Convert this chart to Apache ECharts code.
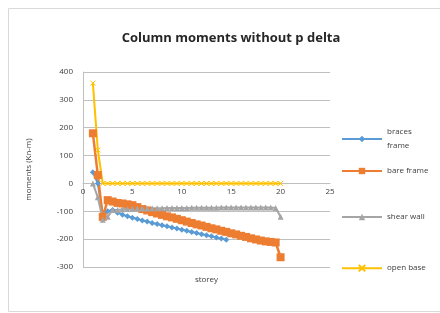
<!DOCTYPE html>
<html>
<head>
<meta charset="utf-8">
<script src="https://cdn.jsdelivr.net/npm/echarts@6/dist/echarts.min.js"></script>
<style>
  html, body { margin: 0; padding: 0; background: #fff; }
  #chart { width: 440px; height: 313px; }
</style>
</head>
<body>
<div id="chart"></div>
<script>
// storey positions (two readings per storey)
var storey = [1, 1.5, 2, 2.5, 3, 3.5, 4, 4.5, 5, 5.5, 6, 6.5, 7, 7.5, 8, 8.5, 9, 9.5, 10, 10.5,
  11, 11.5, 12, 12.5, 13, 13.5, 14, 14.5, 15, 15.5, 16, 16.5, 17, 17.5, 18, 18.5, 19, 19.5, 20];

var bracesFrame = [40, 0, -115, -100, -95, -105, -112, -118, -123, -128, -133, -137, -142, -146, -150, -154,
  -158, -162, -166, -170, -174, -178, -182, -186, -190, -194, -198, -202, null, null, null, null, null,
  null, null, null, null, null, null];

var bareFrame = [180, 30, -120, -60, -65, -70, -72, -75, -78, -85, -92, -97, -103, -108, -113, -118,
  -122, -127, -132, -137, -142, -147, -151, -156, -161, -165, -170, -174, -179, -183, -188, -192, -197,
  -201, -205, -208, -210, -212, -265];

var shearWall = [0, -50, -130, -120, -95, -95, -93, -92, -91, -90, -90, -90, -89, -89, -89, -88, -88,
  -88, -88, -88, -87, -87, -87, -87, -87, -87, -86, -86, -86, -86, -86, -86, -86, -86, -86, -86, -86,
  -88, -120];

var openBase = [360, 120, 0, 0, 0, 0, 0, 0, 0, 0, 0, 0, 0, 0, 0, 0, 0, 0, 0, 0, 0, 0, 0, 0, 0, 0, 0,
  0, 0, 0, 0, 0, 0, 0, 0, 0, 0, 0, 0];

var seriesNames = ['braces frame', 'bare frame', 'shear wall', 'open base'];

function pairs(vals) {
  var out = [];
  for (var i = 0; i < storey.length; i++) {
    if (vals[i] !== null) out.push([storey[i], vals[i]]);
  }
  return out;
}

var xMark = 'path://M0,0 L10,10 M10,0 L0,10';
var chart = echarts.init(document.getElementById('chart'));

var font = 'Open Sans';
var txt = '#404040';

function legendAt(name, top, extra) {
  var lg = {
    data: [name],
    left: 336,
    top: top,
    orient: 'vertical',
    itemWidth: 40,
    itemHeight: 8,
    itemGap: 4,
    textStyle: { fontFamily: font, fontSize: 8, color: txt }
  };
  if (extra) {
    for (var k in extra) lg[k] = extra[k];
  }
  return lg;
}

chart.setOption({
  animation: false,
  color: ['#5B9BD5', '#ED7D31', '#A5A5A5', '#FFC000'],
  graphic: [{
    type: 'rect',
    shape: { x: 8.5, y: 8.5, width: 440, height: 303 },
    style: { fill: 'none', stroke: '#d9d9d9', lineWidth: 1 },
    silent: true
  }],
  title: {
    text: 'Column moments without p delta',
    left: 226,
    textAlign: 'center',
    top: 27,
    textStyle: { fontFamily: font, fontSize: 13, fontWeight: 'bold', color: '#262626' }
  },
  legend: [
    legendAt('braces frame', 113, {
      formatter: function () { return 'braces\nframe'; },
      textStyle: { fontFamily: font, fontSize: 8, color: txt, lineHeight: 14, padding: [14, 0, 0, 0] }
    }),
    legendAt('bare frame', 162),
    legendAt('shear wall', 208),
    legendAt('open base', 259)
  ],
  grid: { left: 83, right: 110, top: 72, bottom: 46, outerBoundsMode: 'none' },
  xAxis: {
    type: 'value',
    min: 0,
    max: 25,
    interval: 5,
    position: 'bottom',
    offset: -84,
    name: 'storey',
    nameLocation: 'middle',
    nameGap: 93,
    nameTextStyle: { fontFamily: font, fontSize: 8, color: txt },
    axisLine: { show: true, onZero: false, lineStyle: { color: '#bfbfbf' } },
    axisTick: { show: false },
    splitLine: { show: false },
    axisLabel: { fontFamily: font, fontSize: 8, color: txt, margin: 5 }
  },
  yAxis: {
    type: 'value',
    min: -300,
    max: 400,
    interval: 100,
    name: 'moments (Kn-m)',
    nameLocation: 'middle',
    nameGap: 50,
    nameTextStyle: { fontFamily: font, fontSize: 8, color: txt },
    axisLine: { show: true, onZero: false, lineStyle: { color: '#bfbfbf' } },
    axisTick: { show: false },
    splitLine: { lineStyle: { color: '#bfbfbf' } },
    axisLabel: { fontFamily: font, fontSize: 8, color: txt, margin: 10 }
  },
  series: [
    {
      name: seriesNames[0], type: 'line', data: pairs(bracesFrame),
      symbol: 'diamond', symbolSize: 6, lineStyle: { width: 2 }
    },
    {
      name: seriesNames[1], type: 'line', data: pairs(bareFrame),
      symbol: 'rect', symbolSize: 8, lineStyle: { width: 2.5 }
    },
    {
      name: seriesNames[2], type: 'line', data: pairs(shearWall),
      symbol: 'triangle', symbolSize: 6, lineStyle: { width: 2 }
    },
    {
      name: seriesNames[3], type: 'line', data: pairs(openBase),
      symbol: xMark, symbolSize: 5, lineStyle: { width: 2 },
      itemStyle: { borderColor: '#FFC000', borderWidth: 1 }
    }
  ]
});
</script>
</body>
</html>
